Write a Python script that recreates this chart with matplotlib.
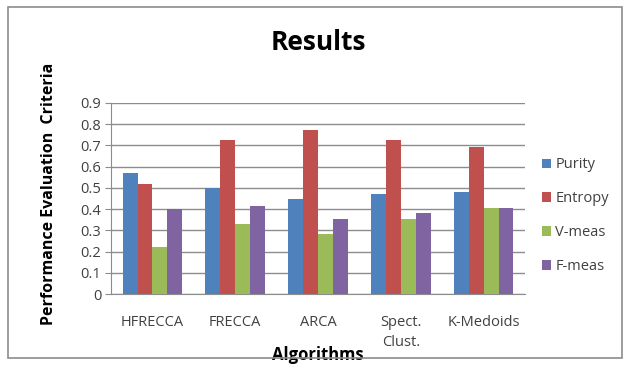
import numpy as np
import matplotlib
matplotlib.use("Agg")
import matplotlib.pyplot as plt
from matplotlib.patches import Rectangle

# data
algorithms = ["HFRECCA", "FRECCA", "ARCA", "Spect.\nClust.", "K-Medoids"]
series = ["Purity", "Entropy", "V-meas", "F-meas"]
purity = [0.57, 0.50, 0.45, 0.47, 0.48]
entropy = [0.52, 0.725, 0.77, 0.725, 0.69]
vmeas = [0.22, 0.33, 0.285, 0.355, 0.405]
fmeas = [0.40, 0.415, 0.355, 0.38, 0.405]
yticks = [0, 0.1, 0.2, 0.3, 0.4, 0.5, 0.6, 0.7, 0.8, 0.9]

colors = ["#4F81BD", "#C0504D", "#9BBB59", "#8064A2"]
plt.rcParams['font.family'] = ['Open Sans', 'DejaVu Sans']

fig = plt.figure(figsize=(6.31, 3.70), dpi=100)
ax = fig.add_axes([0.176, 0.205, 0.656, 0.517])

x = np.arange(len(algorithms))
w = 0.18
for i, (name, vals) in enumerate(zip(series, [purity, entropy, vmeas, fmeas])):
    ax.bar(x + (i - 1.5) * w, vals, w, color=colors[i], label=name, zorder=3)

ax.set_xlim(-0.5, len(algorithms) - 0.5)
ax.set_ylim(0, 0.9)
ax.set_yticks(yticks)
ax.set_yticklabels([("%g" % v) for v in yticks], fontsize=10.5, color="#404040")
ax.yaxis.grid(True, color="#8c8c8c", linewidth=1, zorder=0)
ax.set_xticks(x)
ax.set_xticklabels(algorithms, fontsize=10.5, color="#404040", linespacing=1.45)
ax.tick_params(axis='x', length=0, pad=15)
ax.tick_params(axis='y', length=4, color="#8c8c8c", pad=3)
for s in ["top", "right"]:
    ax.spines[s].set_visible(False)
for s in ["left", "bottom"]:
    ax.spines[s].set_color("#8c8c8c")

ax.set_xlabel("Algorithms", fontsize=12, fontweight="bold")
ax.xaxis.set_label_coords(0.5, -0.27)
ax.set_ylabel("Performance Evaluation  Criteria", fontsize=11.5, fontweight="bold")
ax.yaxis.set_label_coords(-0.13, 0.525)
fig.text(0.504, 0.885, "Results", fontsize=19, fontweight="bold", ha="center", va="center")

ax.legend(loc="center left", bbox_to_anchor=(1.01, 0.41), frameon=False, fontsize=10.5,
          handlelength=0.6, handleheight=0.6, handletextpad=0.3, labelspacing=1.3,
          labelcolor="#404040")

fig.patches.append(Rectangle((0.013, 0.032), 0.973, 0.95, transform=fig.transFigure,
                             fill=False, edgecolor="#8c8c8c", linewidth=1.2))
fig.savefig("out.png", dpi=100)
